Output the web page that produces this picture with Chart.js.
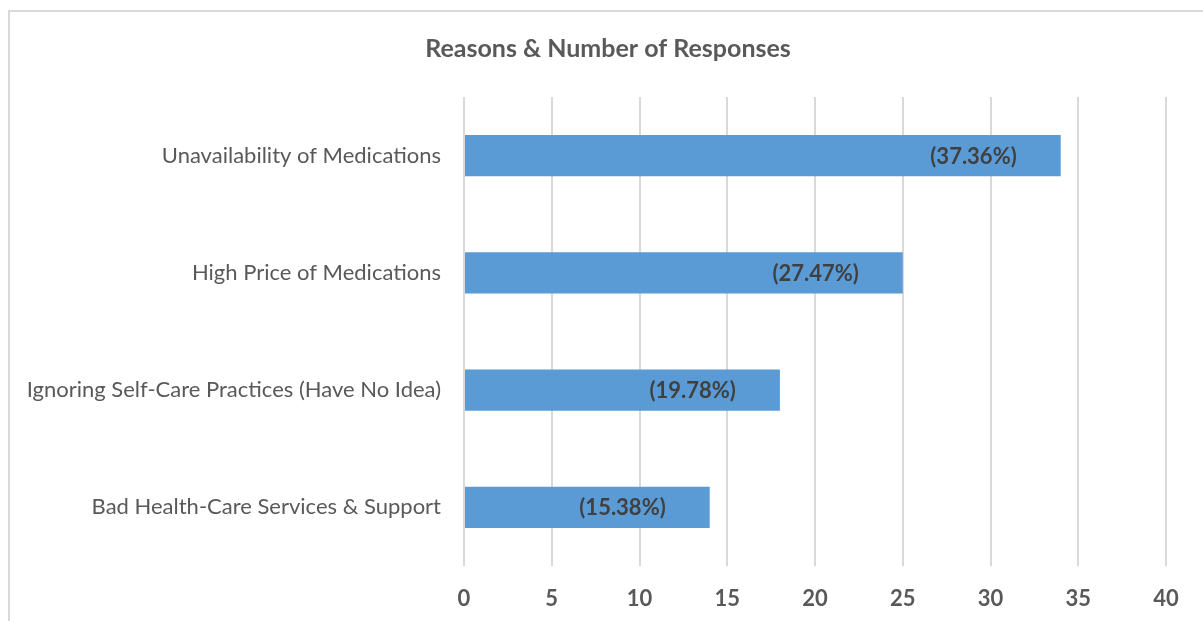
<!DOCTYPE html>
<html lang="en">
  <head>
    <meta charset="utf-8" />
    <title>Reasons & Number of Responses</title>
    <style>
      * {
        margin: 0;
        padding: 0;
      }
      body {
        width: 1203px;
        height: 621px;
        overflow: hidden;
        background: #fff;
        position: relative;
      }
      .frame {
        position: absolute;
        left: 8px;
        top: 10px;
        width: 1300px;
        height: 700px;
        border-left: 2px solid #d9d9d9;
        border-top: 2px solid #d9d9d9;
      }
      .chartBox {
        position: absolute;
        left: 0;
        top: 0;
        width: 1203px;
        height: 621px;
      }
    </style>
  </head>
  <body>
    <div class="frame"></div>
    <div class="chartBox">
      <canvas id="myChart"></canvas>
    </div>

    <script src="https://cdn.jsdelivr.net/npm/chart.js"></script>

    <script>
      const categories = [
        "Unavailability of Medications",
        "High Price of Medications",
        "Ignoring Self-Care Practices (Have No Idea)",
        "Bad Health-Care Services & Support",
      ];
      const responses = [34, 25, 18, 14];
      const percentLabels = ["(37.36%)", "(27.47%)", "(19.78%)", "(15.38%)"];
      const xTicks = [0, 5, 10, 15, 20, 25, 30, 35, 40];
      const chartTitle = "Reasons & Number of Responses";

      const fontFamily = "Lato, 'Open Sans', sans-serif";

      // percentage labels near the bar ends + title centred on the frame
      const labelPlugin = {
        id: "labels",
        afterDatasetsDraw(chart) {
          const { ctx } = chart;
          ctx.save();
          ctx.font = "bold 22px " + fontFamily;
          ctx.fillStyle = "#404040";
          ctx.textAlign = "right";
          ctx.textBaseline = "middle";
          chart.getDatasetMeta(0).data.forEach((bar, i) => {
            ctx.fillText(percentLabels[i], bar.x - 44, bar.y + 1);
          });

          ctx.font = "bold 25px " + fontFamily;
          ctx.fillStyle = "#595959";
          ctx.textAlign = "center";
          ctx.fillText(chartTitle, 608, 49);
          ctx.restore();
        },
      };

      const config = {
        type: "bar",
        data: {
          labels: categories,
          datasets: [
            {
              data: responses,
              backgroundColor: "#5b9bd5",
              borderWidth: 0,
              barPercentage: 0.35,
              categoryPercentage: 1,
            },
          ],
        },
        options: {
          indexAxis: "y",
          responsive: false,
          animation: false,
          layout: {
            padding: { left: 0, right: 37, top: 97, bottom: 0 },
          },
          plugins: {
            legend: { display: false },
            tooltip: { enabled: false },
          },
          scales: {
            x: {
              min: 0,
              max: 40,
              afterBuildTicks(scale) {
                scale.ticks = xTicks.map((v) => ({ value: v }));
              },
              afterFit(scale) {
                scale.height = 55;
              },
              grid: {
                color: "#d9d9d9",
                lineWidth: 2,
                drawTicks: false,
              },
              border: { display: false },
              ticks: {
                color: "#595959",
                padding: 20,
                font: { family: fontFamily, size: 22, weight: "bold" },
              },
            },
            y: {
              afterFit(scale) {
                scale.width = 464;
              },
              grid: { display: false },
              border: { display: false },
              ticks: {
                color: "#595959",
                padding: 15,
                font: { family: fontFamily, size: 22 },
              },
            },
          },
        },
        plugins: [labelPlugin],
      };

      const canvas = document.getElementById("myChart");
      canvas.width = 1203;
      canvas.height = 621;
      const myChart = new Chart(canvas, config);
    </script>
  </body>
</html>
